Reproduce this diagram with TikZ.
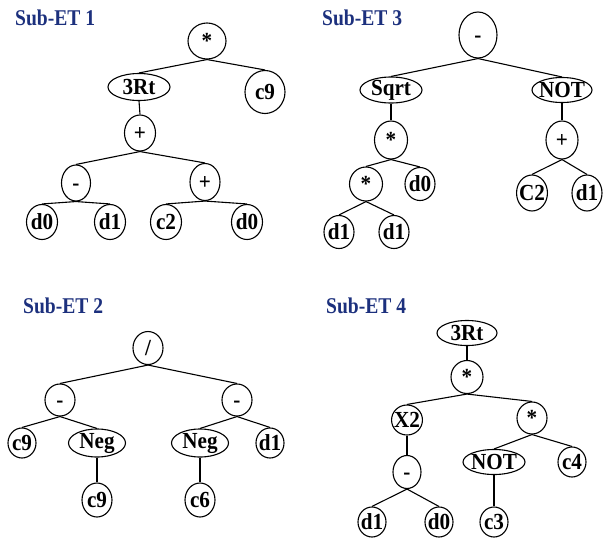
\documentclass[tikz,border=0pt]{standalone}
\usepackage{fontspec}
\setmainfont[FakeStretch=0.87]{Liberation Serif}
\newfontfamily\nodefont[FakeStretch=0.92]{Liberation Serif}
\usetikzlibrary{shapes.geometric}
\definecolor{titleblue}{RGB}{28,48,125}
\begin{document}
\begin{tikzpicture}[x=1pt,y=-1pt,
  nd/.style={ellipse, draw, line width=1.1pt, inner xsep=-2pt, inner ysep=0pt,
    text height=15.5pt, text depth=0pt,
    font=\nodefont\fontsize{23}{23}\selectfont\bfseries},
  desc/.style={text depth=4pt, inner ysep=-1.5pt},
  sz/.style 2 args={minimum width=#1pt, minimum height=#2pt},
  title/.style={anchor=base west, inner sep=0pt, text=titleblue,
    font=\fontsize{22.5}{22.5}\selectfont\bfseries},
  edge/.style={line width=1.1pt}]
\useasboundingbox (0,0) rectangle (608,541);

% ---------------- Sub-ET 1 ----------------
\node[title] (t1) at (15,25) {Sub-ET 1};
\node[nd,sz={38}{36}] (a1) at (207,41) {*};
\node[nd,sz={62}{27}] (a2) at (139,87) {3Rt};
\node[nd,sz={40}{43}] (a3) at (265,92) {c9};
\node[nd,sz={31}{36}] (a4) at (140,133) {+};
\node[nd,sz={29}{36}] (a5) at (76,183) {-};
\node[nd,sz={30}{37}] (a6) at (205,182) {+};
\node[nd,sz={31}{35}] (a7) at (42,222) {d0};
\node[nd,sz={31}{35}] (a8) at (110,222) {d1};
\node[nd,sz={31}{35}] (a9) at (166,222) {c2};
\node[nd,sz={31}{35}] (a10) at (247,222) {d0};
\foreach \p/\c in {a1/a2,a1/a3,a2/a4,a4/a5,a4/a6,a5/a7,a5/a8,a6/a9,a6/a10}
  \draw[edge] (\p.south) -- (\c.north);

% ---------------- Sub-ET 3 ----------------
\node[title] (t3) at (322,25) {Sub-ET 3};
\node[nd,sz={38}{46}] (b1) at (478,35) {-};
\node[nd,desc,sz={62}{26}] (b2) at (391,90) {Sqrt};
\node[nd,sz={60}{25}] (b3) at (562,90) {NOT};
\node[nd,sz={33}{38}] (b4) at (391,140) {*};
\node[nd,sz={32}{38}] (b5) at (562,140) {+};
\node[nd,sz={33}{34}] (b6) at (366,184) {*};
\node[nd,sz={30}{33}] (b7) at (420,184) {d0};
\node[nd,sz={30}{36}] (b8) at (532,193) {C2};
\node[nd,sz={30}{36}] (b9) at (587,193) {d1};
\node[nd,sz={30}{33}] (b10) at (339,232) {d1};
\node[nd,sz={30}{33}] (b11) at (394,232) {d1};
\foreach \p/\c in {b1/b2,b1/b3,b2/b4,b3/b5,b4/b6,b4/b7,b5/b8,b5/b9,b6/b10,b6/b11}
  \draw[edge] (\p.south) -- (\c.north);

% ---------------- Sub-ET 2 ----------------
\node[title] (t2) at (23,313) {Sub-ET 2};
\node[nd,sz={30}{33}] (c1) at (148,348) {/};
\node[nd,sz={30}{32}] (c2) at (60,400) {-};
\node[nd,sz={30}{32}] (c3) at (237,400) {-};
\node[nd,sz={28}{30}] (c4) at (22,443) {c9};
\node[nd,desc,sz={57}{28}] (c5) at (97,443) {Neg};
\node[nd,desc,sz={57}{28}] (c6) at (200,443) {Neg};
\node[nd,sz={28}{30}] (c7) at (270,443) {d1};
\node[nd,sz={30}{34}] (c8) at (97,500) {c9};
\node[nd,sz={30}{34}] (c9) at (200,500) {c6};
\foreach \p/\c in {c1/c2,c1/c3,c2/c4,c2/c5,c3/c6,c3/c7,c5/c8,c6/c9}
  \draw[edge] (\p.south) -- (\c.north);

% ---------------- Sub-ET 4 ----------------
\node[title] (t4) at (326,313) {Sub-ET 4};
\node[nd,sz={60}{25}] (d1) at (467,333) {3Rt};
\node[nd,sz={32}{33}] (d2) at (467,377) {*};
\node[nd,sz={28}{30}] (d3) at (407,420) {X2};
\node[nd,sz={30}{32}] (d4) at (532,418) {*};
\node[nd,sz={28}{33}] (d5) at (407,472) {-};
\node[nd,sz={62}{25}] (d6) at (494,462) {NOT};
\node[nd,sz={28}{30}] (d7) at (572,462) {c4};
\node[nd,sz={28}{30}] (d8) at (372,522) {d1};
\node[nd,sz={28}{30}] (d9) at (439,522) {d0};
\node[nd,sz={28}{30}] (d10) at (494,522) {c3};
\foreach \p/\c in {d1/d2,d2/d3,d2/d4,d3/d5,d5/d8,d5/d9,d4/d6,d4/d7,d6/d10}
  \draw[edge] (\p.south) -- (\c.north);
\end{tikzpicture}
\end{document}
